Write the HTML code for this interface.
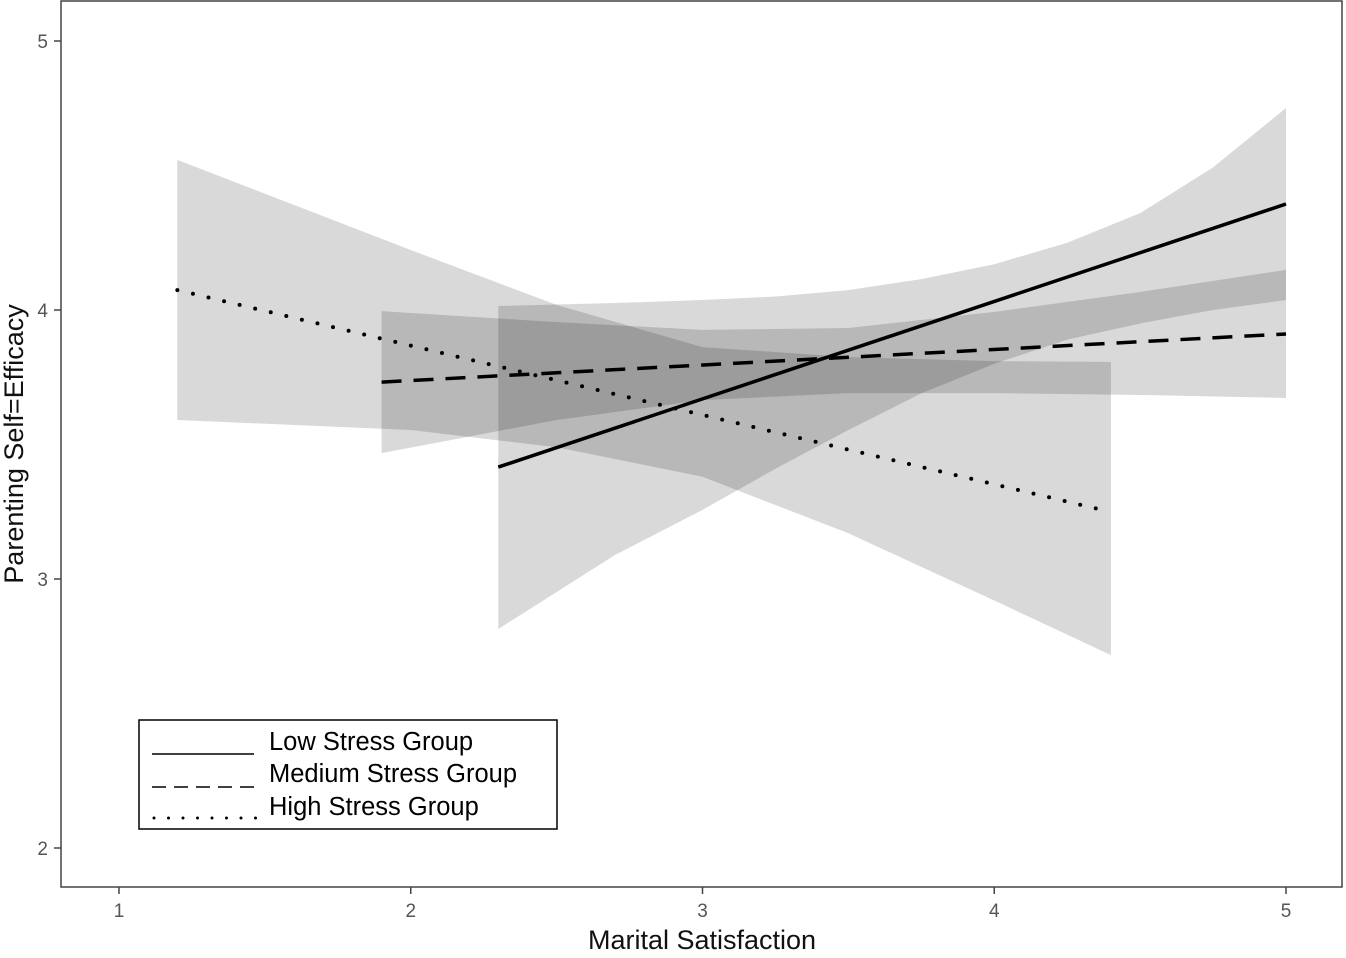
<!DOCTYPE html>
<html><head><meta charset="utf-8"><style>
body{margin:0;background:#fff;}
svg text{font-family:"Liberation Sans",sans-serif;}
</style></head><body>
<svg id="chart" width="1346" height="953" xmlns="http://www.w3.org/2000/svg">
<rect x="0" y="0" width="1346" height="953" fill="#fff"/>
<g id="bands"></g><g id="lines"></g>
<rect x="61" y="1" width="1281" height="886" fill="none" stroke="#444" stroke-width="1.5"/>
<g id="axes"></g>
<text x="702" y="949" font-size="27" text-anchor="middle" fill="#111">Marital Satisfaction</text>
<text transform="translate(23,444) rotate(-90)" font-size="27" text-anchor="middle" fill="#111">Parenting Self=Efficacy</text>
<g>
<rect x="139" y="720" width="418" height="109" fill="#fff" stroke="#000" stroke-width="1.5"/>
<line x1="152" y1="754" x2="254" y2="754" stroke="#000" stroke-width="1.5"/>
<line x1="152" y1="787" x2="254" y2="787" stroke="#000" stroke-width="1.5" stroke-dasharray="14,8"/>
<line x1="154" y1="818" x2="258" y2="818" stroke="#000" stroke-width="3" stroke-dasharray="0,14.5" stroke-linecap="round"/>
<text x="269" y="750" font-size="25.5" fill="#000">Low Stress Group</text>
<text x="269" y="782" font-size="25.5" fill="#000">Medium Stress Group</text>
<text x="269" y="815" font-size="25.5" fill="#000">High Stress Group</text>
</g>
</svg>
<script>
const xTicks=[1,2,3,4,5];
const yTicks=[2,3,4,5];
const groups=["Low Stress Group","Medium Stress Group","High Stress Group"];
const lowX=[2.3,5];
const lowY=[3.416,4.394];
const medX=[1.9,5];
const medY=[3.732,3.911];
const highX=[1.2,4.4];
const highY=[4.074,3.249];
const lowBandX=[2.3,2.7,3,3.25,3.5,3.75,4,4.25,4.5,4.75,5];
const lowBandUpper=[4.015,4.026,4.037,4.05,4.074,4.115,4.17,4.25,4.36,4.53,4.751];
const lowBandLower=[2.814,3.089,3.257,3.41,3.554,3.69,3.8,3.89,3.95,4.0,4.037];
const medBandX=[1.9,2.5,3,3.5,4,4.5,5];
const medBandUpper=[3.996,3.955,3.926,3.933,3.993,4.067,4.149];
const medBandLower=[3.468,3.591,3.665,3.691,3.691,3.684,3.673];
const highBandX=[1.2,2,2.5,3,3.5,4,4.4];
const highBandUpper=[4.558,4.223,4.019,3.862,3.825,3.81,3.807];
const highBandLower=[3.591,3.554,3.49,3.38,3.17,2.92,2.717];

const NS="http://www.w3.org/2000/svg";
const sx=v=>119+(v-1)*291.75;
const sy=v=>848-(v-2)*269;
function mk(tag,attrs,parent){const e=document.createElementNS(NS,tag);for(const k in attrs)e.setAttribute(k,attrs[k]);parent.appendChild(e);return e;}
const bands=document.getElementById('bands'),lines=document.getElementById('lines'),axes=document.getElementById('axes');
function band(xs,up,lo,name){
  let pts=xs.map((x,i)=>sx(x)+","+sy(up[i]));
  for(let i=xs.length-1;i>=0;i--)pts.push(sx(xs[i])+","+sy(lo[i]));
  const p=mk('polygon',{points:pts.join(" "),fill:"#000","fill-opacity":"0.15"},bands);
  
  
}
band(highBandX,highBandUpper,highBandLower,'band-high-stress');
band(medBandX,medBandUpper,medBandLower,'band-medium-stress');
band(lowBandX,lowBandUpper,lowBandLower,'band-low-stress');
function line(xs,ys,name,extra){
  const a={x1:sx(xs[0]),y1:sy(ys[0]),x2:sx(xs[1]),y2:sy(ys[1]),stroke:"#000","stroke-width":"3.5"};
  Object.assign(a,extra);
  const l=mk('line',a,lines);
  
  
}
line(lowX,lowY,'line-low-stress',{});
line(medX,medY,'line-medium-stress',{"stroke-dasharray":"20,12"});
line(highX,highY,'line-high-stress',{"stroke-dasharray":"0,16","stroke-linecap":"round","stroke-width":"4"});
xTicks.forEach(t=>{
  const l=mk('line',{x1:sx(t),y1:887,x2:sx(t),y2:894,stroke:"#444","stroke-width":"1.5"},axes);
  
  
  const tx=mk('text',{x:sx(t),y:917,"font-size":"19","text-anchor":"middle",fill:"#555"},axes);
  tx.textContent=t;
  
  
});
yTicks.forEach(t=>{
  const l=mk('line',{x1:54,y1:sy(t),x2:61,y2:sy(t),stroke:"#444","stroke-width":"1.5"},axes);
  
  
  const tx=mk('text',{x:48,y:sy(t)+7,"font-size":"19","text-anchor":"end",fill:"#555"},axes);
  tx.textContent=t;
  
  
});
</script>
</body></html>
